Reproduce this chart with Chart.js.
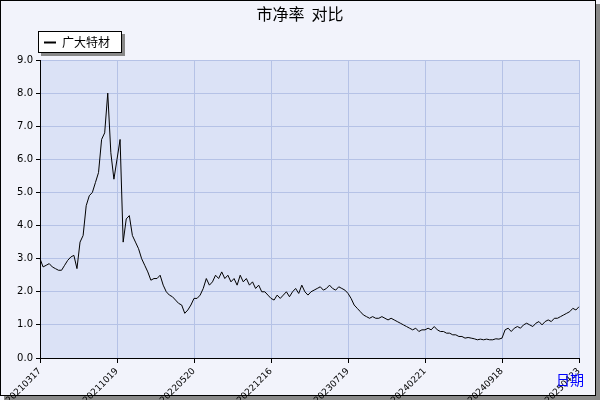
<!DOCTYPE html>
<html><head><meta charset="utf-8">
<script src="https://cdn.jsdelivr.net/npm/chart.js@4"></script>
<style>body{margin:0;background:#fff}#wrap{width:600px;height:400px;position:relative}</style>
</head><body><div id="wrap"><canvas id="miGrafico" width="600" height="400"></canvas></div>
<script>
const titulo = '市净率  对比';
const serieNombre = '广大特材';
const tickLabels = ['20210317','20211019','20220520','20221216','20230719','20240221','20240918','20250423'];
const pbValues = [
  3.0,2.75,2.8,2.85,2.75,2.7,2.65,2.65,2.8,2.95,3.05,3.1,2.7,3.5,3.7,4.6,4.9,5.0,5.3,5.6,6.6,6.8,8.0,6.2,5.4,
  6.0,6.6,3.5,4.2,4.3,3.7,3.5,3.3,3.0,2.8,2.6,2.35,2.4,2.4,2.5,2.2,2.0,1.9,1.85,1.75,1.65,1.6,1.35,1.45,1.6,
  1.8,1.8,1.9,2.1,2.4,2.2,2.3,2.5,2.4,2.6,2.4,2.5,2.3,2.4,2.2,2.5,2.3,2.4,2.2,2.3,2.1,2.2,2.0,2.0,1.9,
  1.8,1.75,1.9,1.8,1.9,2.0,1.85,2.0,2.1,1.95,2.2,2.0,1.9,2.0,2.05,2.1,2.15,2.05,2.1,2.2,2.1,2.05,2.15,2.1,2.05,
  1.95,1.8,1.6,1.5,1.4,1.3,1.25,1.2,1.25,1.2,1.2,1.25,1.2,1.15,1.2,1.15,1.1,1.05,1.0,0.95,0.9,0.85,0.9,0.8,0.85,
  0.85,0.9,0.85,0.95,0.85,0.8,0.8,0.75,0.75,0.7,0.7,0.65,0.65,0.6,0.62,0.6,0.58,0.55,0.57,0.55,0.57,0.55,0.55,0.58,0.57,
  0.6,0.85,0.9,0.8,0.9,0.95,0.9,1.0,1.05,1.0,0.95,1.05,1.1,1.0,1.1,1.15,1.1,1.2,1.2,1.25,1.3,1.35,1.4,1.5,1.45,1.55
];
const paso = 25;
const labels = pbValues.map((v, i) => i % paso === 0 ? tickLabels[i / paso] : '');

const decoracion = {
  id: 'decoracion',
  beforeDraw(chart) {
    const c = chart.ctx, a = chart.chartArea;
    c.save();
    c.fillStyle = '#f2f3fb';
    c.fillRect(0, 0, 600, 400);
    c.fillStyle = '#888';
    c.fillRect(4, 396, 596, 4);
    c.fillRect(596, 4, 4, 396);
    c.strokeStyle = '#000';
    c.lineWidth = 1;
    c.strokeRect(0.5, 0.5, 595, 395);
    c.fillStyle = '#dbe2f6';
    c.fillRect(a.left, a.top, a.right - a.left, a.bottom - a.top);
    c.restore();
  },
  afterDraw(chart) {
    const c = chart.ctx;
    c.save();
    c.fillStyle = '#000';
    c.font = '16px "Noto Sans CJK SC"';
    c.textAlign = 'center';
    c.textBaseline = 'middle';
    c.fillText(titulo, 300, 14);
    // leyenda
    c.fillStyle = '#888';
    c.fillRect(41, 34, 84, 22);
    c.fillStyle = '#fff';
    c.fillRect(38, 31, 84, 22);
    c.strokeStyle = '#000';
    c.strokeRect(38.5, 31.5, 83, 21);
    c.beginPath();
    c.moveTo(44, 42.5); c.lineTo(56, 42.5);
    c.lineWidth = 2; c.stroke();
    c.fillStyle = '#000';
    c.font = '12px "Noto Sans CJK SC"';
    c.textAlign = 'left';
    c.fillText(serieNombre, 62, 42);
    c.fillStyle = '#0000ff';
    c.font = '14px "Noto Sans CJK SC"';
    c.fillText('日期', 556, 380);
    c.restore();
  }
};

new Chart(document.getElementById('miGrafico').getContext('2d'), {
  type: 'line',
  data: {
    labels: labels,
    datasets: [{
      label: serieNombre,
      data: pbValues,
      borderColor: '#000',
      borderWidth: 1,
      pointRadius: 0,
      tension: 0
    }]
  },
  options: {
    responsive: false,
    animation: false,
    layout: { padding: { top: 60, right: 21, left: 0, bottom: 0 } },
    plugins: { legend: { display: false }, tooltip: { enabled: false } },
    scales: {
      x: {
        offset: false,
        afterFit(s) { s.height = 42; },
        grid: {
          color: ctx => (ctx.index % paso === 0) ? '#b5c2e6' : 'rgba(0,0,0,0)',
          tickColor: ctx => (ctx.index % paso === 0) ? '#000' : 'rgba(0,0,0,0)',
          tickLength: 5
        },
        border: { color: '#000' },
        ticks: {
          autoSkip: false,
          minRotation: 45, maxRotation: 45,
          color: '#000',
          font: { size: 9, family: 'DejaVu Sans' }
        }
      },
      y: {
        min: 0, max: 9,
        afterFit(s) { s.width = 40; },
        grid: { color: '#b5c2e6', tickColor: '#000', tickLength: 4 },
        border: { color: '#000' },
        ticks: {
          stepSize: 1,
          color: '#000',
          font: { size: 10, family: 'DejaVu Sans' },
          callback: v => v.toFixed(1)
        }
      }
    }
  },
  plugins: [decoracion]
});
</script></body></html>
